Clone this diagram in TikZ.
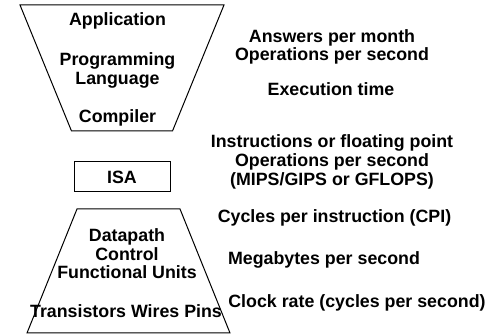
\documentclass[tikz,border=0pt]{standalone}
\usepackage{fontspec}
\setmainfont{Liberation Sans}
\usetikzlibrary{calc}

% Trapezoid outline of a layer stack
% 1: style
% 2: id
% 3: centre x
% 4: top y
% 5: bottom y
% 6: half width at top
% 7: half width at bottom
\newcommand{\stackTrap}[7][]{
    \coordinate (#2/TL) at (#3-#6,#4);
    \coordinate (#2/TR) at (#3+#6,#4);
    \coordinate (#2/BL) at (#3-#7,#5);
    \coordinate (#2/BR) at (#3+#7,#5);
    \draw [#1] (#2/TL) -- (#2/TR) -- (#2/BR) -- (#2/BL) -- cycle;
    \coordinate (#2/center) at ($(#2/TL)!0.5!(#2/BR)$);
}

\begin{document}
\begin{tikzpicture}[x=1pt,y=-1pt]
%% CONFIG
\def\fontS{\fontsize{17.8}{18.6}\selectfont\bfseries}
\def\lw{1pt}

\tikzset{
    txt/.style={font=\fontS, inner sep=0pt, align=center},
    isabox/.style={txt, draw, line width=\lw, minimum width=96pt, minimum height=30pt}
}

\useasboundingbox (0,0) rectangle (496,336);

% Software side of the stack
\stackTrap[line width=\lw]{sw}{122}{5}{131}{102}{50.5}
\node [txt, anchor=base] (app) at (117.5,25.5) {Application};
\node [txt] (lang) at (117.5,70.5) {Programming\\Language};
\node [txt, anchor=base] (comp) at (117.5,122.5) {Compiler};

% Instruction set
\node [isabox] (isa) at (122,177) {ISA};

% Hardware side of the stack
\stackTrap[line width=\lw]{hw}{128.5}{209}{333}{51.5}{101.5}
\node [txt] (dpath) at (127,254) {Datapath\\Control\\Functional Units};
\node [txt, anchor=base] (trans) at (126,318) {Transistors Wires Pins};

% Metrics for each level
\node [txt] (ans) at (332,47) {Answers per month\\Operations per second};
\node [txt, anchor=base] (exec) at (331,96) {Execution time};
\node [txt] (instr) at (332,162) {Instructions or floating point\\Operations per second\\(MIPS/GIPS or GFLOPS)};
\node [txt, anchor=base] (cpi) at (334.5,223) {Cycles per instruction (CPI)};
\node [txt, anchor=base] (mbps) at (324,265) {Megabytes per second};
\node [txt, anchor=base] (clk) at (357,307.5) {Clock rate (cycles per second)};

\end{tikzpicture}
\end{document}
